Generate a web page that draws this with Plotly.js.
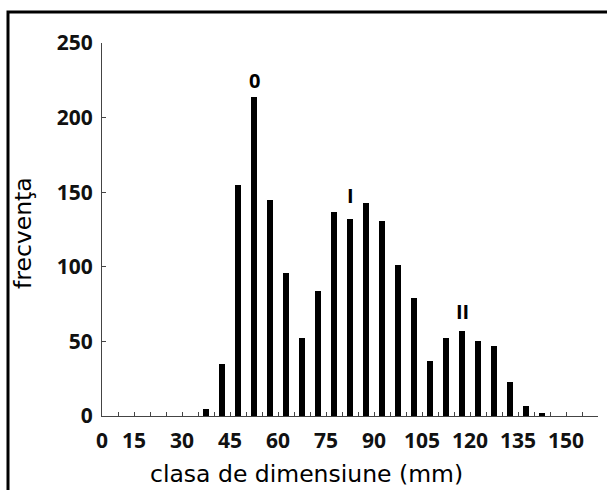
<!DOCTYPE html>
<html>
<head>
<meta charset="utf-8">
<script src="https://cdn.plot.ly/plotly-3.0.1.min.js"></script>
<style>
  html, body { margin: 0; padding: 0; background: #ffffff; }
  #chart { width: 607px; height: 490px; }
</style>
</head>
<body>
<div id="chart"></div>
<script>
// Size classes (mm, class centres of 5 mm classes) and their frequencies
const classCentres = [37.5, 42.5, 47.5, 52.5, 57.5, 62.5, 67.5, 72.5, 77.5, 82.5, 87.5,
                      92.5, 97.5, 102.5, 107.5, 112.5, 117.5, 122.5, 127.5, 132.5, 137.5, 142.5];
const frequencies  = [5, 35, 155, 214, 145, 96, 52, 84, 137, 132, 143,
                      131, 101, 79, 37, 52, 57, 50, 47, 23, 7, 2];

// Tick labels
const xTickVals = [5, 15, 30, 45, 60, 75, 90, 105, 120, 135, 150];
const xTickText = ['0', '15', '30', '45', '60', '75', '90', '105', '120', '135', '150'];
const yTickVals = [0, 50, 100, 150, 200, 250];

// Cohort labels placed above peaks
const cohortText = ['0', 'I', 'II'];
const cohortX    = [52.5, 82.5, 117.5];
const cohortY    = [225, 148, 70];

const tickFont = { family: 'Open Sans, Lato, sans-serif', size: 21, color: '#111', weight: 700 };

const data = [{
  type: 'bar',
  x: classCentres,
  y: frequencies,
  width: 2.1,
  marker: { color: '#000000', line: { width: 0 } },
  hoverinfo: 'x+y'
}];

const annotations = cohortText.map((t, i) => ({
  x: cohortX[i], y: cohortY[i], xref: 'x', yref: 'y',
  text: t, showarrow: false, xanchor: 'center', yanchor: 'middle',
  font: { family: 'Open Sans, sans-serif', size: 20, color: '#000', weight: 700 }
}));

annotations.push({
  xref: 'paper', yref: 'paper', x: (306 - 102) / 496, y: -(474 - 416) / 373,
  text: 'clasa de dimensiune (mm)', showarrow: false, xanchor: 'center', yanchor: 'middle',
  font: { family: 'DejaVu Sans, sans-serif', size: 23.5, color: '#000' }
});
annotations.push({
  xref: 'paper', yref: 'paper', x: -(102 - 23) / 496, y: (416 - 233) / 373,
  text: 'frecvenţa', showarrow: false, textangle: -90, xanchor: 'center', yanchor: 'middle',
  font: { family: 'DejaVu Sans, sans-serif', size: 23.5, color: '#000' }
});

const layout = {
  width: 607, height: 490,
  margin: { l: 102, r: 9, t: 43, b: 74, pad: 0 },
  paper_bgcolor: '#ffffff',
  plot_bgcolor: '#ffffff',
  showlegend: false,
  bargap: 0,
  xaxis: {
    range: [5, 160],
    showgrid: false, zeroline: false,
    showline: true, linecolor: '#444', linewidth: 1,
    tickmode: 'array', tickvals: xTickVals, ticktext: xTickText,
    ticks: 'inside', ticklen: 4, tickcolor: '#444', tickwidth: 1,
    minor: { dtick: 5, tick0: 0, ticks: 'inside', ticklen: 4, tickcolor: '#444', tickwidth: 1, showgrid: false },
    tickfont: tickFont,
    ticklabelstandoff: 6
  },
  yaxis: {
    range: [0, 250],
    showgrid: false, zeroline: false,
    showline: true, linecolor: '#444', linewidth: 1,
    tickmode: 'array', tickvals: yTickVals,
    ticks: 'inside', ticklen: 4, tickcolor: '#444', tickwidth: 1,
    tickfont: tickFont,
    ticklabelstandoff: 4
  },
  annotations: annotations,
  shapes: [{
    type: 'rect', xref: 'paper', yref: 'paper',
    x0: (8 - 102) / 496, x1: (620 - 102) / 496,
    y0: -(500 - 416) / 373, y1: (416 - 12) / 373,
    line: { color: '#000', width: 3 }, fillcolor: 'rgba(0,0,0,0)', layer: 'above'
  }]
};

Plotly.newPlot('chart', data, layout, { displayModeBar: false, staticPlot: true });
</script>
</body>
</html>
